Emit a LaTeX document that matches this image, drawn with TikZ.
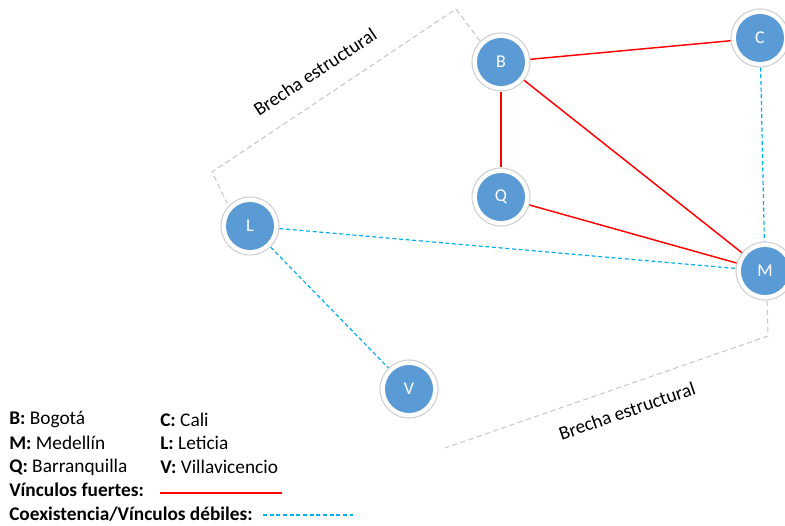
\documentclass[tikz,border=0pt]{standalone}
\usepackage{fontspec}
\setmainfont{Carlito}
\definecolor{nodeblue}{HTML}{5B9BD5}
\definecolor{ringgray}{HTML}{D0D0D0}
\definecolor{strongred}{HTML}{FF0000}
\definecolor{weakblue}{HTML}{00B0F0}
\definecolor{gapgray}{HTML}{C8C8C8}
\begin{document}
\begin{tikzpicture}[x=0.75pt,y=-0.75pt,
  city/.style={circle, draw=ringgray, line width=0.8pt, fill=white,
    minimum size=43.5pt, inner sep=0pt, text=white, font=\fontsize{13.5}{15}\selectfont,
    path picture={\fill[nodeblue] (path picture bounding box.center) circle (18pt);}},
  strong/.style={strongred, line width=1.1pt},
  weak/.style={weakblue, line width=0.9pt, dash pattern=on 3pt off 2pt},
  gap/.style={gapgray, line width=0.8pt, dash pattern=on 4pt off 2.5pt},
  gaplabel/.style={font=\fontsize{14.4}{16}\selectfont, inner sep=0pt},
  legend/.style={anchor=west, inner sep=0pt, font=\fontsize{14.5}{16}\selectfont}]
\useasboundingbox (0,0) rectangle (785,525);

% structural gap brackets
\coordinate (g1a) at (480,41);
\coordinate (g1b) at (456,9);
\coordinate (g1c) at (212,172);
\coordinate (g1d) at (227,203);
\draw[gap] (g1a) -- (g1b) -- (g1c) -- (g1d);
\coordinate (g2a) at (767,301);
\coordinate (g2b) at (768,336);
\coordinate (g2c) at (445,448);
\draw[gap] (g2a) -- (g2b) -- (g2c);
\node[gaplabel, rotate=33.5] (gl1) at (315,72) {Brecha estructural};
\node[gaplabel, rotate=19] (gl2) at (627,411) {Brecha estructural};

% cities
\node[city] (B) at (501,62) {B};
\node[city] (C) at (760,38) {C};
\node[city] (Q) at (501,197) {Q};
\node[city] (L) at (250,226) {L};
\node[city] (M) at (765,271) {M};
\node[city] (V) at (409,389) {V};

% links
\draw[strong] (B) -- (C);
\draw[strong] (B) -- (Q);
\draw[strong] (B) -- (M);
\draw[strong] (Q) -- (M);
\draw[weak] (C) -- (M);
\draw[weak] (L) -- (M);
\draw[weak] (L) -- (V);

% legend
\node[legend] (kB) at (9,420) {\textbf{B:} Bogotá};
\node[legend] (kC) at (160,420) {\textbf{C:} Cali};
\node[legend] (kM) at (9,443) {\textbf{M:} Medellín};
\node[legend] (kL) at (160,443) {\textbf{L:} Leticia};
\node[legend] (kQ) at (9,467) {\textbf{Q:} Barranquilla};
\node[legend] (kV) at (160,467) {\textbf{V:} Villavicencio};
\node[legend] (kS) at (9,490) {\textbf{Vínculos fuertes:}};
\node[legend] (kW) at (9,514) {\textbf{Coexistencia/Vínculos débiles:}};
\coordinate (s1) at (160,493);
\coordinate (s2) at (282,493);
\draw[strongred, line width=1.6pt] (s1) -- (s2);
\coordinate (w1) at (263,515);
\coordinate (w2) at (353,515);
\draw[weak] (w1) -- (w2);
\end{tikzpicture}
\end{document}
